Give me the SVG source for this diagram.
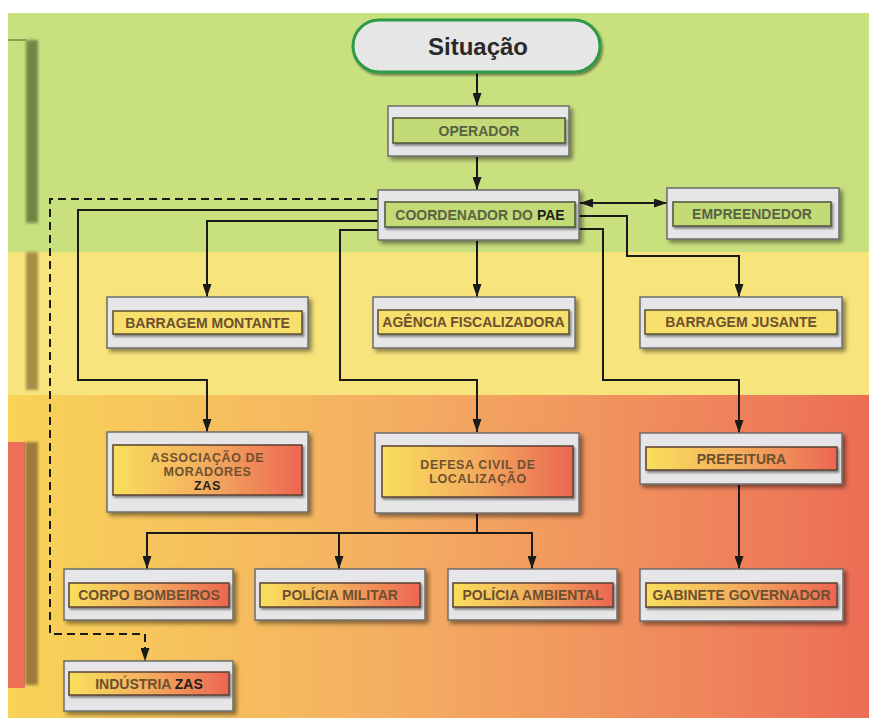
<svg xmlns="http://www.w3.org/2000/svg" width="869" height="718" viewBox="0 0 869 718">
<style>
.outer{fill:#e6e6e8;stroke:#6e6e6e;stroke-width:1.5;filter:url(#sh)}
.inG{fill:#c3db77;stroke:#4e5438;stroke-width:1.5;filter:url(#sh2)}
.inY{fill:#f6df6a;stroke:#5a4f30;stroke-width:1.5;filter:url(#sh2)}
.inR{fill:url(#gr);stroke:#5a4030;stroke-width:1.5;filter:url(#sh2)}
.t{font-family:"Liberation Sans",Arial,sans-serif;font-weight:700;font-size:14px;text-anchor:middle}
.s{font-size:12.5px;letter-spacing:0.6px}
.tg{fill:#5a6244}
.tb{fill:#6e5030}
.k{fill:#1e1e1e}
.c{fill:none;stroke:#1a1a1a;stroke-width:2}
.a{marker-end:url(#ah)}
.d{stroke-dasharray:8 5}
</style>
<defs>
<filter id="sh" x="-10%" y="-20%" width="130%" height="160%"><feDropShadow dx="3" dy="3" stdDeviation="2" flood-color="#000" flood-opacity="0.45"/></filter>
<filter id="sh2" x="-10%" y="-30%" width="130%" height="180%"><feDropShadow dx="1.5" dy="2" stdDeviation="1.2" flood-color="#000" flood-opacity="0.45"/></filter>
<filter id="bl" x="-50%" y="-5%" width="200%" height="110%"><feGaussianBlur stdDeviation="1.5"/></filter>
<linearGradient id="bg" x1="0" y1="0" x2="1" y2="0">
<stop offset="0" stop-color="#f8d358"/>
<stop offset="0.45" stop-color="#f4ae62"/>
<stop offset="0.8" stop-color="#ef875c"/>
<stop offset="1" stop-color="#ec6d55"/>
</linearGradient>
<linearGradient id="gr" x1="0" y1="0" x2="1" y2="0">
<stop offset="0" stop-color="#f8e05c"/>
<stop offset="0.5" stop-color="#f3ac5e"/>
<stop offset="1" stop-color="#ec6652"/>
</linearGradient>
<marker id="ah" markerUnits="userSpaceOnUse" markerWidth="13" markerHeight="9" refX="13" refY="4.5" orient="auto" viewBox="0 0 13 9">
<path d="M0,0 L13,4.5 L0,9 z" fill="#1a1a1a"/>
</marker>
<marker id="ah2" markerUnits="userSpaceOnUse" markerWidth="13" markerHeight="9" refX="13" refY="4.5" orient="auto-start-reverse" viewBox="0 0 13 9">
<path d="M0,0 L13,4.5 L0,9 z" fill="#1a1a1a"/>
</marker>
</defs>

<g id="background">
<rect x="0" y="0" width="869" height="718" fill="#ffffff"/>
<rect x="8" y="13" width="861" height="240" fill="#c9e07f"/>
<rect x="8" y="252" width="861" height="144" fill="#f8e47c"/>
<rect x="8" y="395" width="861" height="323" fill="url(#bg)"/>
<line x1="8" y1="40" x2="26" y2="40" stroke="#6f8847" stroke-width="1.5"/>
<rect x="26" y="40" width="12" height="183" fill="#6f8847" filter="url(#bl)"/>
<rect x="26" y="252" width="12" height="138" fill="#a68e46" filter="url(#bl)"/>
<rect x="8" y="442" width="17" height="246" fill="#ee7058"/>
<rect x="25" y="442" width="13" height="243" fill="#9c7b3c" filter="url(#bl)"/>
</g>

<g id="connectors">
<path class="c a" d="M477,73 V106"/>
<path class="c a" d="M477,157 V190"/>
<path class="c" d="M580,203 H667" marker-start="url(#ah2)" marker-end="url(#ah2)"/>
<path class="c d a" d="M378,199 H50 V634 H145 V661"/>
<path class="c a" d="M378,210 H78 V380 H207 V432"/>
<path class="c a" d="M378,221 H207 V297"/>
<path class="c a" d="M378,230 H340 V380 H477 V432"/>
<path class="c a" d="M477,241 V297"/>
<path class="c a" d="M579,216 H627 V256 H739 V297"/>
<path class="c a" d="M579,229 H603 V380 H739 V433"/>
<path class="c" d="M477,514 V533 M147,533 H532"/>
<path class="c a" d="M147,532 V569"/>
<path class="c a" d="M339,533 V569"/>
<path class="c a" d="M532,532 V569"/>
<path class="c a" d="M739,485 V569"/>
</g>

<g id="situacao">
<rect x="353" y="20" width="247" height="52" rx="26" fill="#e6e6e6" stroke="#2e9a45" stroke-width="3" filter="url(#sh2)"/>
<text x="478" y="55" font-family="'Liberation Sans',Arial,sans-serif" font-weight="700" font-size="24" text-anchor="middle" fill="#2a2a2a">Situação</text>
</g>

<g id="operador">
<rect class="outer" x="388" y="106" width="181" height="50"/>
<rect class="inG" x="393" y="118" width="172" height="25"/>
<text class="t tg" x="479" y="135.5">OPERADOR</text>
</g>

<g id="coordenador">
<rect class="outer" x="378" y="190" width="201" height="50"/>
<rect class="inG" x="385" y="202" width="190" height="25"/>
<text class="t tg" x="480" y="219.5">COORDENADOR DO <tspan class="k">PAE</tspan></text>
</g>

<g id="empreendedor">
<rect class="outer" x="667" y="188" width="172" height="51"/>
<rect class="inG" x="673" y="202" width="158" height="24"/>
<text class="t tg" x="752" y="219">EMPREENDEDOR</text>
</g>

<g id="barragem-montante">
<rect class="outer" x="107" y="297" width="201" height="51"/>
<rect class="inY" x="113" y="311" width="189" height="23"/>
<text class="t tb" x="207.5" y="327.5">BARRAGEM MONTANTE</text>
</g>

<g id="agencia">
<rect class="outer" x="373" y="297" width="202" height="51"/>
<rect class="inY" x="378" y="310" width="191" height="24"/>
<text class="t tb" x="473.5" y="327">AGÊNCIA FISCALIZADORA</text>
</g>

<g id="barragem-jusante">
<rect class="outer" x="640" y="297" width="202" height="51"/>
<rect class="inY" x="645" y="310" width="192" height="24"/>
<text class="t tb" x="741" y="327">BARRAGEM JUSANTE</text>
</g>

<g id="associacao">
<rect class="outer" x="107" y="432" width="201" height="80"/>
<rect class="inR" x="113" y="445" width="189" height="50"/>
<text class="t s tb" x="207.5" y="462">ASSOCIAÇÃO DE</text>
<text class="t s tb" x="207.5" y="476">MORADORES</text>
<text class="t s k" x="207.5" y="490">ZAS</text>
</g>

<g id="defesa-civil">
<rect class="outer" x="375" y="433" width="204" height="80"/>
<rect class="inR" x="382" y="446" width="191" height="51"/>
<text class="t s tb" x="478" y="469">DEFESA CIVIL DE</text>
<text class="t s tb" x="478" y="483">LOCALIZAÇÃO</text>
</g>

<g id="prefeitura">
<rect class="outer" x="640" y="433" width="202" height="51"/>
<rect class="inR" x="646" y="447" width="191" height="23"/>
<text class="t tb" x="741.5" y="463.5">PREFEITURA</text>
</g>

<g id="corpo-bombeiros">
<rect class="outer" x="64" y="569" width="169" height="51"/>
<rect class="inR" x="69" y="583" width="160" height="24"/>
<text class="t tb" x="149" y="600">CORPO BOMBEIROS</text>
</g>

<g id="policia-militar">
<rect class="outer" x="255" y="569" width="170" height="51"/>
<rect class="inR" x="260" y="583" width="160" height="24"/>
<text class="t tb" x="340" y="600">POLÍCIA MILITAR</text>
</g>

<g id="policia-ambiental">
<rect class="outer" x="448" y="569" width="169" height="51"/>
<rect class="inR" x="453" y="583" width="160" height="24"/>
<text class="t tb" x="533" y="600">POLÍCIA AMBIENTAL</text>
</g>

<g id="gabinete">
<rect class="outer" x="640" y="569" width="203" height="52"/>
<rect class="inR" x="646" y="583" width="191" height="24"/>
<text class="t tb" x="741.5" y="600">GABINETE GOVERNADOR</text>
</g>

<g id="industria">
<rect class="outer" x="64" y="661" width="169" height="50"/>
<rect class="inR" x="69" y="672" width="160" height="23"/>
<text class="t tb" x="149" y="688.5">INDÚSTRIA <tspan class="k">ZAS</tspan></text>
</g>
</svg>
